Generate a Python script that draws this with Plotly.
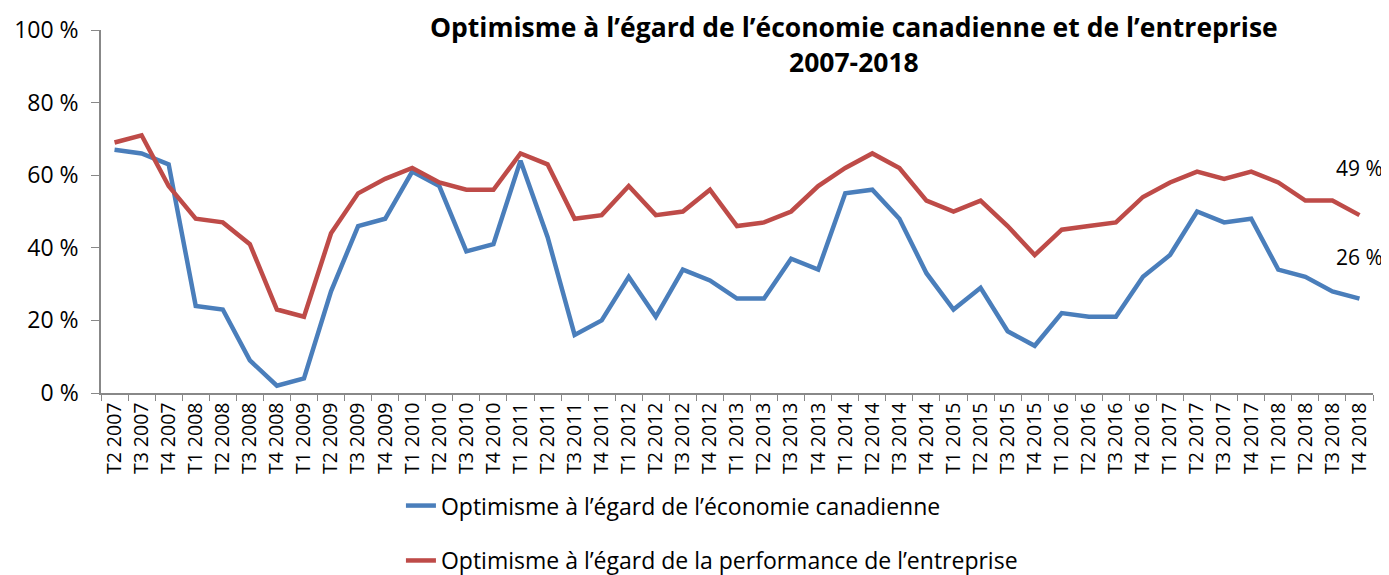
import plotly.graph_objects as go

# Quarters T2 2007 .. T4 2018
quarters = ["T2 2007", "T3 2007", "T4 2007"] + [
    f"T{q} {y}" for y in range(2008, 2019) for q in range(1, 5)
]

economie = [67, 66, 63, 24, 23, 9, 2, 4, 28, 46, 48, 61, 57, 39, 41, 64,
            43, 16, 20, 32, 21, 34, 31, 26, 26, 37, 34, 55, 56, 48, 33, 23,
            29, 17, 13, 22, 21, 21, 32, 38, 50, 47, 48, 34, 32, 28, 26]

entreprise = [69, 71, 57, 48, 47, 41, 23, 21, 44, 55, 59, 62, 58, 56, 56, 66,
              63, 48, 49, 57, 49, 50, 56, 46, 47, 50, 57, 62, 66, 62, 53, 50,
              53, 46, 38, 45, 46, 47, 54, 58, 61, 59, 61, 58, 53, 53, 49]

name_eco = "Optimisme à l’égard de l’économie canadienne"
name_ent = "Optimisme à l’égard de la performance de l’entreprise"
title_lines = ["Optimisme à l’égard de l’économie canadienne et de l’entreprise",
               "2007-2018"]

BLUE = "#4A7EBB"
RED = "#BE4B48"
FONT = "'Open Sans', Lato, sans-serif"

fig = go.Figure()

fig.add_trace(go.Scatter(
    x=quarters, y=economie, mode="lines", name=name_eco,
    line=dict(color=BLUE, width=4.5), legendgroup="a"
))
fig.add_trace(go.Scatter(
    x=quarters, y=entreprise, mode="lines", name=name_ent,
    line=dict(color=RED, width=4.5), legendgroup="b"
))

# End labels
fig.add_annotation(x=quarters[-1], y=entreprise[-1], text=f"{entreprise[-1]} %",
                   showarrow=False, yshift=47, xshift=0,
                   font=dict(size=21, color="#000000", family=FONT))
fig.add_annotation(x=quarters[-1], y=economie[-1], text=f"{economie[-1]} %",
                   showarrow=False, yshift=42, xshift=0,
                   font=dict(size=21, color="#000000", family=FONT))

# Title, two centred lines
for txt, yy in zip(title_lines, [1.008, 0.912]):
    fig.add_annotation(x=0.592, y=yy, xref="paper", yref="paper",
                       text=f"<b>{txt}</b>", showarrow=False,
                       xanchor="center", yanchor="middle",
                       font=dict(size=26.5, color="#000000", family=FONT))

# page body adds an 8px offset, so the figure is a little smaller than the window
fig.update_layout(
    width=1381, height=567,
    margin=dict(l=93, r=16, t=22, b=182, autoexpand=False),
    paper_bgcolor="white", plot_bgcolor="white",
    font=dict(family=FONT, color="#000000"),
    xaxis=dict(
        type="category", range=[-0.5, len(quarters) - 0.5],
        showline=True, linecolor="#888888", linewidth=1.5,
        ticks="outside", tickson="boundaries", ticklen=6, tickcolor="#888888",
        tickangle=-90, tickfont=dict(size=19.5), showgrid=False,
        automargin=False
    ),
    yaxis=dict(
        range=[0, 100], dtick=20, ticksuffix=" %",
        showline=True, linecolor="#888888", linewidth=1.5,
        ticks="outside", ticklen=8, tickcolor="#888888",
        ticklabelstandoff=8,
        tickfont=dict(size=23), showgrid=False, zeroline=False,
        automargin=False
    ),
    showlegend=True,
    legend=dict(
        x=0.2358, y=-0.251, xanchor="left", yanchor="top",
        orientation="v", tracegroupgap=22,
        font=dict(size=23), bgcolor="rgba(0,0,0,0)"
    )
)

fig.write_html("out.html")
